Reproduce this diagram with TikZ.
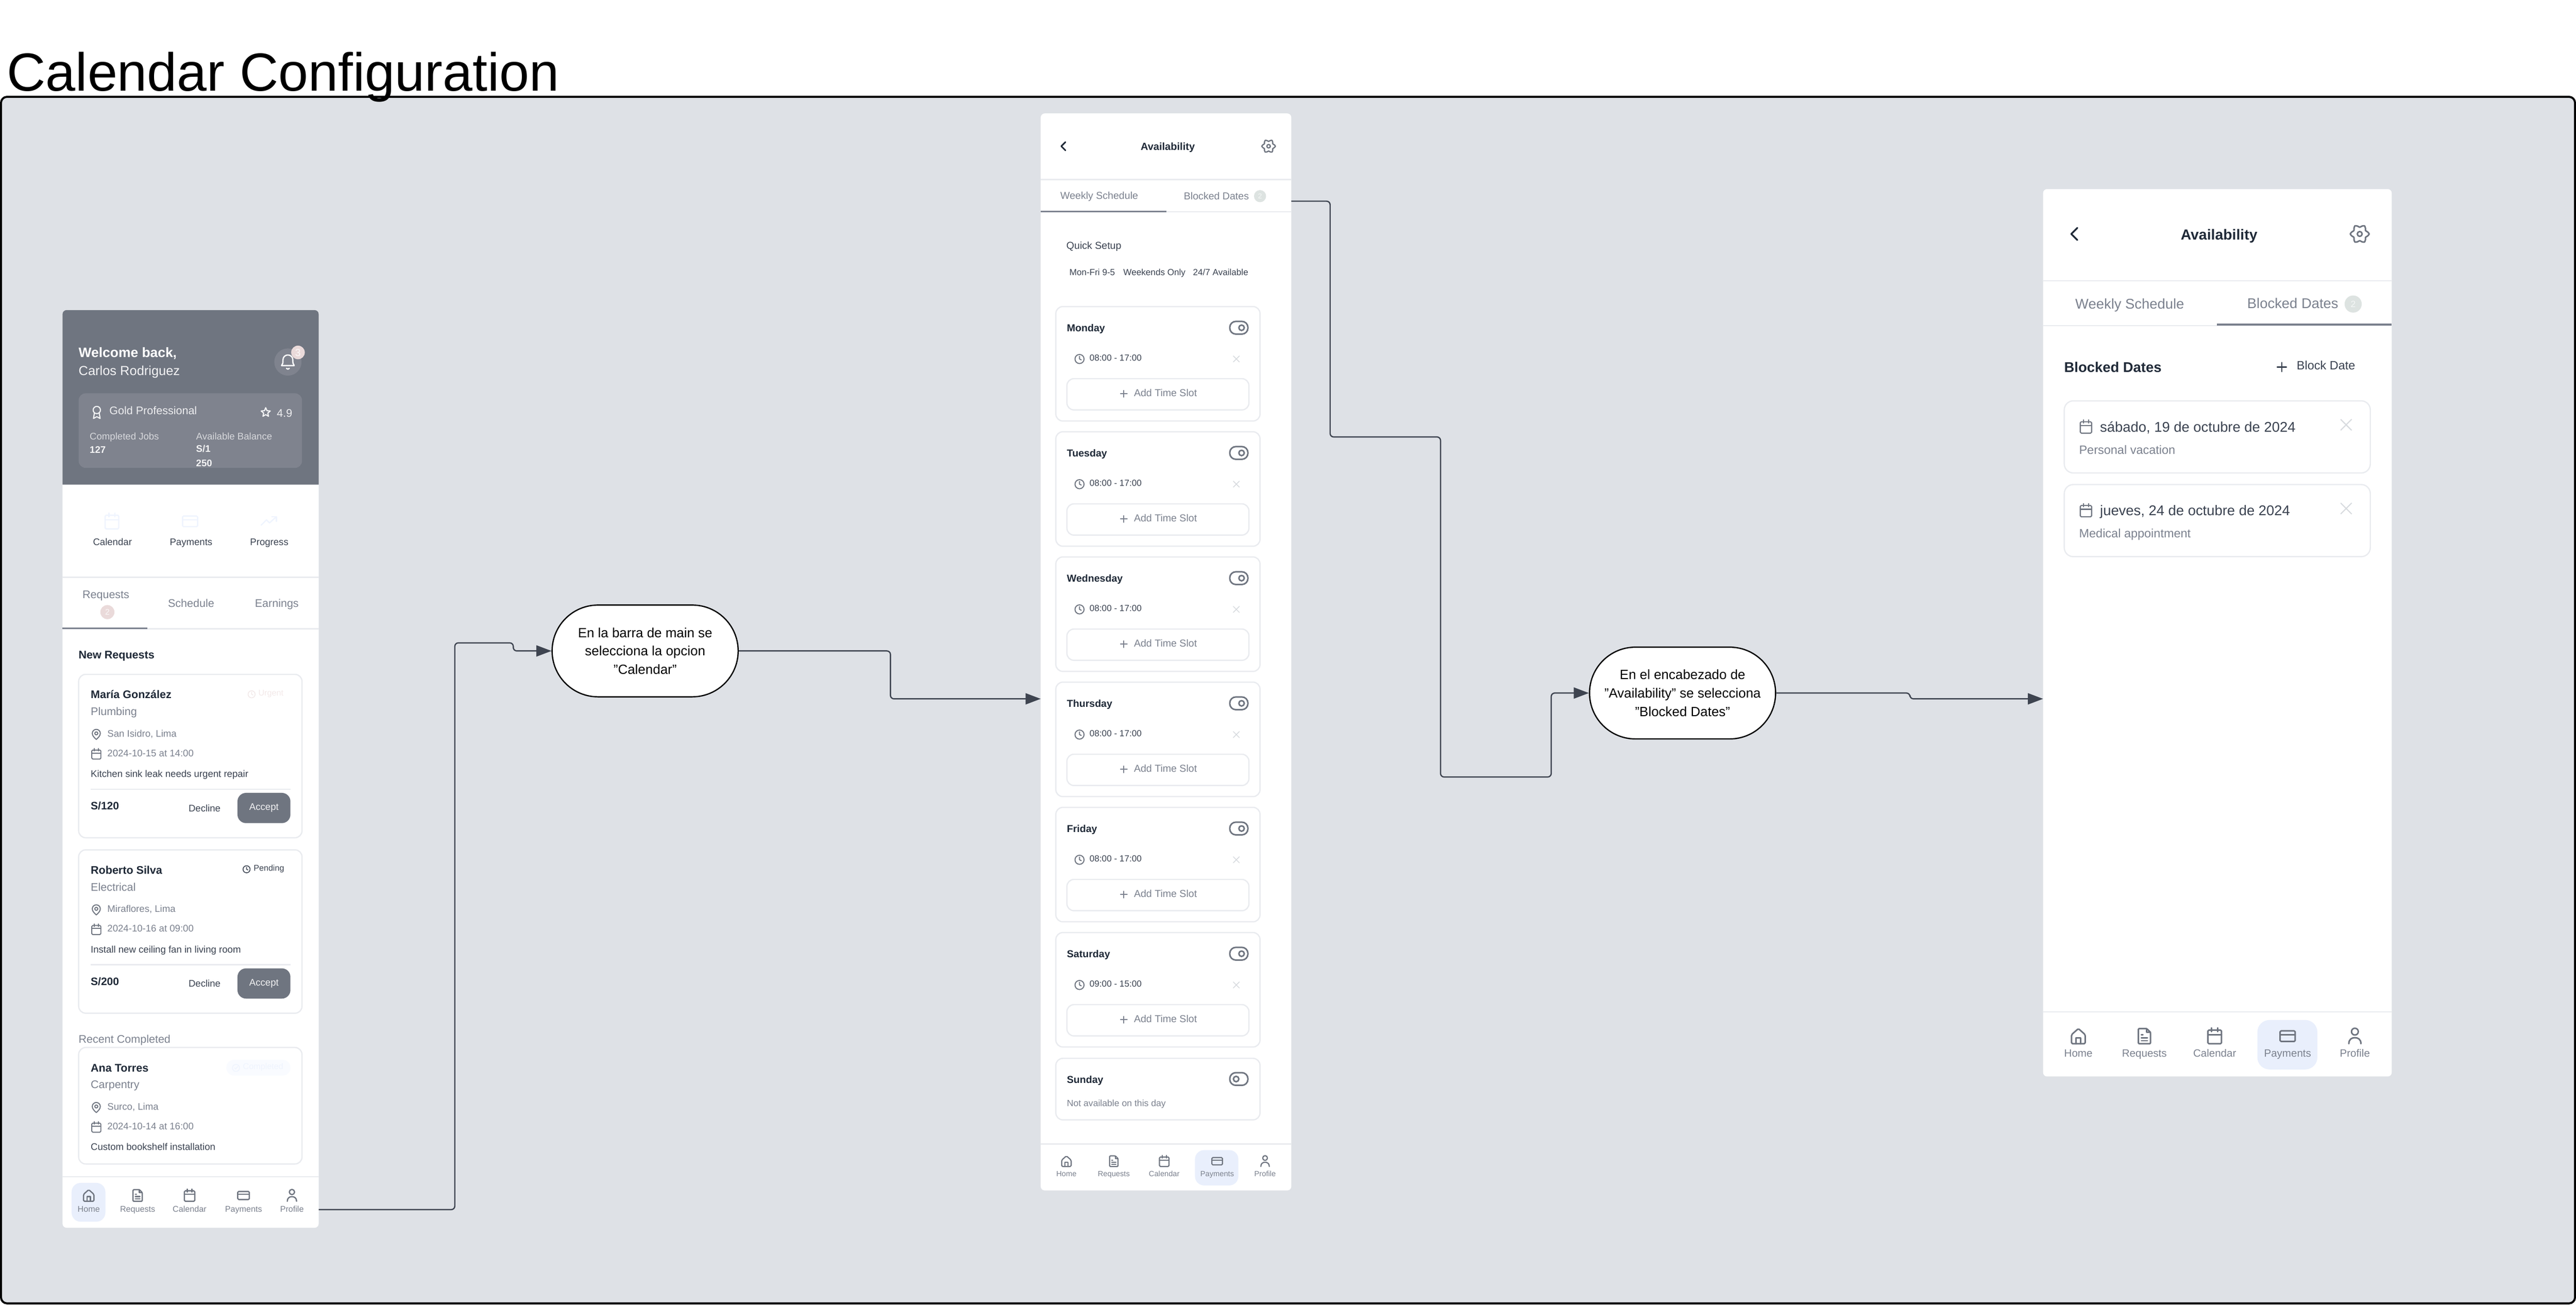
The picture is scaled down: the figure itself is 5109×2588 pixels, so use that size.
\documentclass[tikz,border=0pt]{standalone}
\usepackage{fontspec}
\setmainfont{Liberation Sans}
\usetikzlibrary{shapes.misc, positioning}
\usetikzlibrary{arrows.meta}
\tikzset{>={Triangle[width=22pt,length=30pt]}}

\definecolor{framebg}{HTML}{DEE1E6}
\definecolor{ink}{HTML}{1F2937}
\definecolor{softink}{HTML}{3A4250}
\definecolor{greytext}{HTML}{7B818E}
\definecolor{slate}{HTML}{6F7580}
\definecolor{slatelight}{HTML}{7F838E}
\definecolor{hairline}{HTML}{E9EBEF}
\definecolor{navactive}{HTML}{E9EFFC}
\definecolor{paleblue}{HTML}{EFF4FE}
\definecolor{palepink}{HTML}{EADADA}
\definecolor{palegreen}{HTML}{DDE3E1}
\definecolor{crossgrey}{HTML}{D8DBDF}
\definecolor{wire}{HTML}{3E4450}

\tikzset{
  lbl/.style 2 args={font=\fontsize{#1}{#1}\selectfont, text=#2, inner sep=0pt, outer sep=0pt, text height=0.72*#1pt, text depth=0pt, anchor=west},
  lblb/.style 2 args={lbl={#1}{#2}, font=\fontsize{#1}{#1}\selectfont\bfseries},
  box/.style 2 args={rectangle, anchor=north west, inner sep=0pt, outer sep=0pt, minimum width=#1pt, minimum height=#2pt},
  screen/.style 2 args={box={#1}{#2}, fill=white, rounded corners=8pt},
  card/.style 2 args={box={#1}{#2}, draw=hairline, line width=2.5pt, fill=white, rounded corners=14pt},
  chip/.style={circle, inner sep=0pt, outer sep=0pt},
  stepnode/.style={rounded rectangle, draw=black, line width=2.5pt, fill=white, text=black, align=center, minimum width=369pt, minimum height=182pt, inner sep=0pt, font=\fontsize{26.5}{36.5}\selectfont},
  rule/.style={draw=hairline, line width=2.5pt},
  conn/.style={draw=wire, line width=2.5pt, rounded corners=7pt},
  ic/.style n args={3}{scale=#1, color=#2, line width=#3pt, line cap=round, line join=round},
  % icons are drawn on a 24 unit grid around their centre
  pics/calicon/.style={code={
    \draw[rounded corners=2pt] (-9,-8) rectangle (9,10);
    \draw (-9,-2) -- (9,-2) (-4,-11) -- (-4,-6) (4,-11) -- (4,-6);}},
  pics/pinicon/.style={code={
    \draw (0,10) .. controls (-4,6.5) and (-8,2.5) .. (-8,-2) .. controls (-8,-6.4) and (-4.4,-10) .. (0,-10) .. controls (4.4,-10) and (8,-6.4) .. (8,-2) .. controls (8,2.5) and (4,6.5) .. (0,10) -- cycle;
    \draw (0,-2) circle (3);}},
  pics/clockicon/.style={code={
    \draw (0,0) circle (10);
    \draw (0,-6) -- (0,0) -- (4,2);}},
  pics/checkicon/.style={code={
    \draw (0,0) circle (10);
    \draw (-4,0) -- (-1,3) -- (5,-4);}},
  pics/bellicon/.style={code={
    \draw (-9,5) .. controls (-7,3) and (-7,1) .. (-7,-3) .. controls (-7,-7) and (-4,-10) .. (0,-10) .. controls (4,-10) and (7,-7) .. (7,-3) .. controls (7,1) and (7,3) .. (9,5) -- cycle;
    \draw (-2,9) .. controls (-1,10.5) and (1,10.5) .. (2,9);}},
  pics/staricon/.style={code={
    \draw (-90:10) -- (-54:4.5) -- (-18:10) -- (18:4.5) -- (54:10) -- (90:4.5) -- (126:10) -- (162:4.5) -- (198:10) -- (234:4.5) -- cycle;}},
  pics/awardicon/.style={code={
    \draw (0,-4) circle (6);
    \draw (-4,1) -- (-5.5,10) -- (0,7) -- (5.5,10) -- (4,1);}},
  pics/cardicon/.style={code={
    \draw[rounded corners=2pt] (-10,-7) rectangle (10,7);
    \draw (-10,-2) -- (10,-2);}},
  pics/trendicon/.style={code={
    \draw (-10,5) -- (-3,-2) -- (1,2) -- (10,-6);
    \draw (4,-6) -- (10,-6) -- (10,0);}},
  pics/homeicon/.style={code={
    \draw[rounded corners=2pt] (-9,10) -- (-9,-2) -- (0,-10) -- (9,-2) -- (9,10) -- cycle;
    \draw (-3,10) -- (-3,2) -- (3,2) -- (3,10);}},
  pics/fileicon/.style={code={
    \draw[rounded corners=1.5pt] (-8,-10) -- (3,-10) -- (8,-5) -- (8,10) -- (-8,10) -- cycle;
    \draw (3,-10) -- (3,-5) -- (8,-5) (-4,-2) -- (-2,-2) (-4,2) -- (4,2) (-4,6) -- (4,6);}},
  pics/usericon/.style={code={
    \draw (0,-6) circle (4.5);
    \draw (-8,10) .. controls (-8,4) and (-4,2) .. (0,2) .. controls (4,2) and (8,4) .. (8,10);}},
  pics/gearicon/.style={code={
    \draw plot[smooth cycle, domain=0:345, samples=24] (\x:{10+1.7*cos(6*\x)});
    \draw (0,0) circle (3);}},
  pics/backicon/.style={code={\draw (3,-6) -- (-3,0) -- (3,6);}},
  pics/plusicon/.style={code={\draw (-7,0) -- (7,0) (0,-7) -- (0,7);}},
  pics/crossicon/.style={code={\draw (-6,-6) -- (6,6) (-6,6) -- (6,-6);}},
  pics/toggleon/.style={code={
    \draw[rounded corners=12pt] (-10,-7) rectangle (10,7);
    \draw (3,0) circle (3);}},
  pics/toggleoff/.style={code={
    \draw[rounded corners=12pt] (-10,-7) rectangle (10,7);
    \draw (-3,0) circle (3);}},
}

\begin{document}
\begin{tikzpicture}[x=1pt,y=-1pt]
    \useasboundingbox (0,0) rectangle (5109,2588);
    \fill[white] (0,0) rectangle (5109,2588);

    %Frame and title
    \node[box={5105}{2393}, draw=black, line width=4pt, fill=framebg, rounded corners=12pt](frame) at (2,192){};
    \node[lbl={106.5}{black}](title) at (14,142){Calendar Configuration};

    %Main screen
    \node[screen={508}{1820}](screenmain) at (124,615){};
    \fill[slate] (124,961) [rounded corners=8pt] -- (124,615) -- (632,615) [sharp corners] -- (632,961) -- cycle;
    \node[lblb={27}{white}](welcome) at (156,699){Welcome back,};
    \node[lbl={26}{white!92!slate}](carlos) at (156,735){Carlos Rodriguez};
    \node[chip, minimum size=54pt, fill=slatelight](bellbg) at (571,718){};
    \pic[ic={1.4}{white}{2.5}] at (571,718) {bellicon};
    \node[chip, lbl={20}{white!80!palepink}, anchor=center, minimum size=27pt, fill=palepink](bellbadge) at (591,699){3};
    \node[box={443}{148}, fill=slatelight, rounded corners=14pt](goldbox) at (156,780){};
    \pic[ic={1.2}{white!92!slate}{2.2}] at (192,818) {awardicon};
    \node[lbl={22}{white!88!slate}](gold) at (217,814){Gold Professional};
    \pic[ic={0.95}{white!92!slate}{2.2}] at (527,818) {staricon};
    \node[lbl={22}{white!88!slate}](rating) at (549,819){4.9};
    \node[lbl={19}{white!72!slate}](jobslabel) at (178,865){Completed Jobs};
    \node[lblb={19}{white!92!slate}](jobs) at (178,892){127};
    \node[lbl={19}{white!72!slate}](balancelabel) at (389,865){Available Balance};
    \node[lblb={19}{white!92!slate}](balancea) at (389,890){S/1};
    \node[lblb={19}{white!92!slate}](balanceb) at (389,918){250};

    \pic[ic={1.5}{paleblue}{2.5}] at (222,1034) {calicon};
    \pic[ic={1.5}{paleblue}{2.5}] at (377,1034) {cardicon};
    \pic[ic={1.5}{paleblue}{2.5}] at (533,1034) {trendicon};
    \foreach \lab/\cx in {Calendar/223,Payments/379,Progress/534}{
        \node[lbl={19}{softink}, anchor=center](quick\lab) at (\cx,1075){\lab};
    }

    \draw[rule] (124,1145) -- (632,1145);
    \draw[rule] (124,1247) -- (632,1247);
    \draw[draw=greytext, line width=3pt] (124,1246) -- (292,1246);
    \node[lbl={22}{greytext}, anchor=center](tabrequests) at (210,1179){Requests};
    \node[chip, lbl={16}{white!80!palepink}, anchor=center, minimum size=28pt, fill=palepink](tabbadge) at (213,1214){2};
    \node[lbl={22}{greytext}, anchor=center](tabschedule) at (379,1196){Schedule};
    \node[lbl={22}{greytext}, anchor=center](tabearnings) at (549,1196){Earnings};
    \node[lblb={22}{ink}](newrequests) at (156,1298){New Requests};
    \node[lbl={22}{greytext}](recent) at (156,2061){Recent Completed};

    %Request cards
    \foreach \who/\trade/\where/\when/\what/\rowy/\tall/\tag in {
        María González/Plumbing/{San Isidro, Lima}/2024-10-15 at 14:00/Kitchen sink leak needs urgent repair/1337.5/324/a,
        Roberto Silva/Electrical/{Miraflores, Lima}/2024-10-16 at 09:00/Install new ceiling fan in living room/1685.5/324/b,
        Ana Torres/Carpentry/{Surco, Lima}/2024-10-14 at 16:00/Custom bookshelf installation/2077.5/231/c}{
        \begin{scope}[shift={(0,\rowy)}]
            \node[card={443}{\tall}](request\tag) at (156,0){};
            \node[lblb={22}{ink}](who\tag) at (180,40){\who};
            \node[lbl={22}{greytext}](trade\tag) at (180,73.5){\trade};
            \pic[ic={1}{slate}{2}] at (191,119) {pinicon};
            \node[lbl={19}{greytext}](where\tag) at (213,117){\where};
            \pic[ic={1}{slate}{2}] at (191,158) {calicon};
            \node[lbl={19}{greytext}](when\tag) at (213,156){\when};
            \node[lbl={19}{softink}](what\tag) at (180,197){\what};
        \end{scope}
    }
    \foreach \amount/\rowy/\tag in {120/1337.5/a,200/1685.5/b}{
        \begin{scope}[shift={(0,\rowy)}]
            \draw[rule] (180,228) -- (576,228);
            \node[lblb={21.5}{ink}](price\tag) at (180,261){S/\amount};
            \node[lbl={19}{softink}](decline\tag) at (374,265){Decline};
            \node[box={105}{60}, fill=slate, rounded corners=17pt, text=white!90!slate, font=\fontsize{19}{19}\selectfont](accept\tag) at (471,235){Accept};
        \end{scope}
    }
    \pic[ic={0.7}{palepink!60!white}{1.6}] at (499,1377) {clockicon};
    \node[lbl={16.5}{palepink!60!white}](urgent) at (512.5,1374){Urgent};
    \pic[ic={0.7}{softink}{1.6}] at (489,1724) {clockicon};
    \node[lbl={16.5}{softink}](pending) at (503,1721){Pending};
    \node[box={127}{31}, fill=paleblue!40!white, rounded corners=15pt](completedpill) at (449,2102){};
    \pic[ic={0.7}{paleblue}{1.6}] at (468,2118) {checkicon};
    \node[lbl={16.5}{paleblue}](completed) at (482,2115){Completed};

    %Main navigation
    \draw[rule] (124,2334) -- (632,2334);
    \node[box={67}{77}, fill=navactive, rounded corners=18pt](mainactive) at (142,2346){};
    \foreach \lab/\cx/\icon in {Home/176/homeicon,Requests/273/fileicon,Calendar/376/calicon,Payments/483/cardicon,Profile/579/usericon}{
        \pic[ic={1.15}{slate}{2.5}] at (\cx,2371) {\icon};
        \node[lbl={16.5}{greytext}, anchor=center](mainnav\lab) at (\cx,2398){\lab};
    }

    %Availability screen
    \node[screen={497}{2136}](screenavail) at (2064,225){};
    \pic[ic={1.4}{ink}{3}] at (2109,290) {backicon};
    \node[lblb={20.5}{ink}, anchor=center](availtitle) at (2316,290){Availability};
    \pic[ic={1.15}{slate}{2.5}] at (2516,290) {gearicon};
    \draw[rule] (2064,356) -- (2561,356);
    \draw[rule] (2064,420) -- (2561,420);
    \draw[draw=greytext, line width=3pt] (2064,419) -- (2313,419);
    \node[lbl={20}{greytext}](availweekly) at (2103,388){Weekly Schedule};
    \node[lbl={20}{greytext}](availblocked) at (2348,389){Blocked Dates};
    \node[chip, lbl={14}{white!70!palegreen}, anchor=center, minimum size=24pt, fill=palegreen](availbadge) at (2499,389){2};
    \node[lbl={20}{softink}](quicksetup) at (2115,487){Quick Setup};
    \node[lbl={17.5}{softink}](presetone) at (2121,539.5){Mon-Fri 9-5};
    \node[lbl={17.5}{softink}](presettwo) at (2228,539.5){Weekends Only};
    \node[lbl={17.5}{softink}](presetthree) at (2366,539.5){24/7 Available};

    %Day cards
    \foreach \day/\hours [count=\i from 0] in {Monday/08:00 - 17:00,Tuesday/08:00 - 17:00,Wednesday/08:00 - 17:00,Thursday/08:00 - 17:00,Friday/08:00 - 17:00,Saturday/09:00 - 15:00}{
        \begin{scope}[shift={(0,{608+248.3*\i})}]
            \node[card={405}{227}](card\day) at (2094,0){};
            \node[lblb={20}{ink}](name\day) at (2116,42){\day};
            \pic[ic={1.8}{slate}{3}] at (2457,42) {toggleon};
            \pic[ic={0.9}{slate}{2}] at (2141,104) {clockicon};
            \node[lbl={17.5}{softink}](hours\day) at (2161,101){\hours};
            \pic[ic={1}{crossgrey}{1.6}] at (2452,104) {crossicon};
            \node[card={361}{62}](slot\day) at (2116,143){};
            \pic[ic={0.95}{greytext}{2}] at (2229,173) {plusicon};
            \node[lbl={20}{greytext}](addslot\day) at (2249,171){Add Time Slot};
        \end{scope}
    }
    \node[card={405}{122}](cardSunday) at (2094,2099){};
    \node[lblb={20}{ink}](nameSunday) at (2116,2141){Sunday};
    \pic[ic={1.8}{slate}{3}] at (2457,2140) {toggleoff};
    \node[lbl={18}{greytext}](offSunday) at (2116,2188){Not available on this day};

    %Availability navigation
    \draw[rule] (2064,2269) -- (2561,2269);
    \node[box={86}{70}, fill=navactive, rounded corners=18pt](availactive) at (2370,2281){};
    \foreach \lab/\cx/\icon in {Home/2115/homeicon,Requests/2209/fileicon,Calendar/2309/calicon,Payments/2414/cardicon,Profile/2509/usericon}{
        \pic[ic={1.05}{slate}{2.3}] at (\cx,2303) {\icon};
        \node[lbl={15}{greytext}, anchor=center](availnav\lab) at (\cx,2328){\lab};
    }

    %Blocked dates screen
    \node[screen={691.5}{1760}](screenblock) at (4052,375){};
    \pic[ic={2}{ink}{3.5}] at (4114,464) {backicon};
    \node[lblb={29}{ink}, anchor=center](blocktitle) at (4401,465){Availability};
    \pic[ic={1.6}{slate}{3}] at (4680,464) {gearicon};
    \draw[rule] (4052,557) -- (4743.5,557);
    \draw[rule] (4052,646) -- (4743.5,646);
    \draw[draw=greytext, line width=4pt] (4397,644) -- (4743.5,644);
    \node[lbl={28}{greytext}](blockweekly) at (4116,602){Weekly Schedule};
    \node[lbl={28}{greytext}](blockblocked) at (4457,601){Blocked Dates};
    \node[chip, lbl={18}{white!70!palegreen}, anchor=center, minimum size=34pt, fill=palegreen](blockbadge) at (4667,603){2};
    \node[lblb={28}{ink}](blockheading) at (4094,728){Blocked Dates};
    \pic[ic={1.3}{softink}{2.5}] at (4525.5,728) {plusicon};
    \node[lbl={24}{softink}](blockdate) at (4555,725){Block Date};
    \foreach \when/\why/\rowy/\tag in {{sábado, 19 de octubre de 2024}/Personal vacation/795/a,{jueves, 24 de octubre de 2024}/Medical appointment/961/b}{
        \begin{scope}[shift={(0,\rowy)}]
            \node[card={607}{143}, rounded corners=18pt](blocked\tag) at (4094,0){};
            \pic[ic={1.25}{slate}{2.2}] at (4137,51.5) {calicon};
            \node[lbl={28}{softink}](blockedwhen\tag) at (4165,51.5){\when};
            \node[lbl={24}{greytext}](blockedwhy\tag) at (4123.5,97){\why};
            \pic[ic={1.75}{crossgrey}{2.2}] at (4653,47.5) {crossicon};
        \end{scope}
    }

    %Blocked dates navigation
    \draw[rule] (4052,2007) -- (4743.5,2007);
    \node[box={119}{98}, fill=navactive, rounded corners=24pt](blockactive) at (4477,2023){};
    \foreach \lab/\cx/\icon in {Home/4122/homeicon,Requests/4253/fileicon,Calendar/4392.4/calicon,Payments/4537/cardicon,Profile/4670.4/usericon}{
        \pic[ic={1.5}{slate}{3}] at (\cx,2055) {\icon};
        \node[lbl={21}{greytext}, anchor=center](blocknav\lab) at (\cx,2089){\lab};
    }

    %Step nodes
    \node[stepnode](stepcalendar) at (1279.5,1291){En la barra de main se\\selecciona la opcion\\"Calendar"};
    \node[stepnode](stepblocked) at (3337,1374.5){En el encabezado de\\"Availability" se selecciona\\"Blocked Dates"};

    %Lines
    \coordinate (mainout) at (screenmain.east |- 0,2399);
    \coordinate (availin) at (screenavail.west |- 0,1386);
    \coordinate (availout) at (screenavail.east |- 0,399);
    \coordinate (blockin) at (screenblock.west |- 0,1386);
    \draw[conn, ->] (mainout) -- (902,2399) -- (902,1275) -- (1018,1275) -- (1018,1291) -- (stepcalendar.west);
    \draw[conn, ->] (stepcalendar.east) -- (1766,1291) -- (1766,1386) -- (availin);
    \draw[conn, ->] (availout) -- (2638,399) -- (2638,866.6) -- (2857,866.6) -- (2857,1541) -- (3076.5,1541) -- (3076.5,1374.5) -- (stepblocked.west);
    \draw[conn, ->] (stepblocked.east) -- (3788,1374.5) -- (3788,1386) -- (blockin);
\end{tikzpicture}
\end{document}
